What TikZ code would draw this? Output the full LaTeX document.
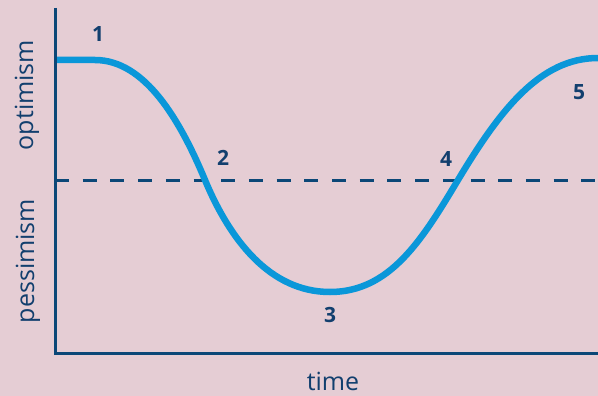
\documentclass[tikz,border=0pt]{standalone}
\usepackage{fontspec}
\setmainfont{Open Sans}
\definecolor{bgpink}{HTML}{E5CDD4}
\definecolor{axisblue}{HTML}{0B4777}
\definecolor{curveblue}{HTML}{0A97D9}
\definecolor{textblue}{HTML}{123F6E}
\begin{document}
\begin{tikzpicture}[x=1pt,y=-1pt,
  axisline/.style={draw=axisblue,line width=3pt},
  refline/.style={draw=axisblue,line width=3pt,dash pattern=on 14pt off 13.7pt},
  curveline/.style={draw=curveblue,line width=6.5pt},
  axislabel/.style={text=textblue,font=\fontsize{25}{30}\selectfont,inner sep=0pt},
  numlabel/.style={text=textblue,font=\bfseries\fontsize{21}{25}\selectfont,inner sep=0pt}]
\fill[bgpink] (0,0) rectangle (598,396);
\useasboundingbox (0,0) rectangle (598,396);
\coordinate (top) at (55,8);
\coordinate (origin) at (55,353);
\coordinate (right) at (598,353);
\coordinate (dl) at (55,180);
\coordinate (dr) at (598,180);
\coordinate (c0) at (55,60);
\coordinate (c1) at (95,60);
\coordinate (c2) at (205,180);
\coordinate (c3) at (330,292);
\coordinate (c4) at (458,180);
\coordinate (c5) at (598,58);
\draw[refline] (dl) -- (dr);
\draw[curveline] (c0) -- (c1) .. controls (145,60) and (180,120) .. (c2)
  .. controls (230,240) and (270,292) .. (c3)
  .. controls (390,292) and (422,240) .. (c4)
  .. controls (500,110) and (540,58) .. (c5);
\draw[axisline] (top) -- (origin) -- (right);
\node[numlabel] (n1) at (98,34) {1};
\node[numlabel] (n2) at (223,158) {2};
\node[numlabel] (n3) at (330,315) {3};
\node[numlabel] (n4) at (446,159) {4};
\node[numlabel] (n5) at (579,92) {5};
\node[axislabel,rotate=90] (opt) at (27,95) {optimism};
\node[axislabel,rotate=90] (pes) at (28,261) {pessimism};
\node[axislabel] (time) at (333,381) {time};
\end{tikzpicture}
\end{document}
